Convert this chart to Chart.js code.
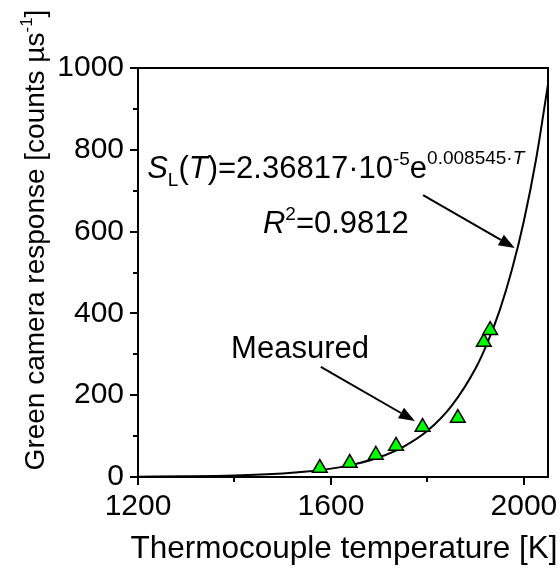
<!DOCTYPE html>
<html>
<head>
<meta charset="utf-8">
<script src="https://cdn.jsdelivr.net/npm/chart.js@4.4.1/dist/chart.umd.min.js"></script>
<style>
html, body { margin: 0; padding: 0; background: #fff; }
</style>
</head>
<body>
<canvas id="grafico" width="560" height="569"></canvas>
<script>
// measured points: thermocouple temperature [K] vs green camera response
var tempMedida = [1577, 1639, 1693, 1735, 1790, 1863, 1917, 1930];
var respMedida = [22, 34, 54, 76, 122, 144, 330, 359];

// fitted curve
var tempAjuste = [1200, 1300, 1400, 1500, 1550, 1600, 1650, 1700, 1750, 1800, 1850, 1900, 1925, 1950, 1975, 2000, 2025, 2050];
var respAjuste = [0.7, 1.6, 3.7, 8.7, 13.4, 20.5, 31.5, 48.2, 73.9, 113, 174, 266, 330, 408, 506, 626, 775, 960];

// annotation anchors, in data units
var notas = {
    medido: { x: 1393, y: 291 },
    setaMedido: [1579, 269, 1774, 137],
    equacao: { x: 1219, y: 731 },
    r2: { x: 1459, y: 597 },
    setaEq: [1791, 689, 1981, 560]
};

const fonte = '"Liberation Sans", Arial, sans-serif';

function pontos(xs, ys) {
    return xs.map(function (x, i) { return { x: x, y: ys[i] }; });
}

// draws text in pieces: [string, size, italic, dy]
function textoPartes(ctx, partes, x, y, medir) {
    var cx = x;
    partes.forEach(function (p) {
        ctx.font = (p[2] ? 'italic ' : '') + p[1] + 'px ' + fonte;
        if (!medir) ctx.fillText(p[0], cx, y + p[3]);
        cx += ctx.measureText(p[0]).width;
    });
    return cx - x;
}

function seta(ctx, x1, y1, x2, y2) {
    var ang = Math.atan2(y2 - y1, x2 - x1);
    var comp = 16, larg = 6;
    ctx.beginPath();
    ctx.moveTo(x1, y1);
    ctx.lineTo(x2 - Math.cos(ang) * comp, y2 - Math.sin(ang) * comp);
    ctx.stroke();
    ctx.beginPath();
    ctx.moveTo(x2, y2);
    ctx.lineTo(x2 - Math.cos(ang) * comp - Math.sin(ang) * larg, y2 - Math.sin(ang) * comp + Math.cos(ang) * larg);
    ctx.lineTo(x2 - Math.cos(ang) * comp + Math.sin(ang) * larg, y2 - Math.sin(ang) * comp - Math.cos(ang) * larg);
    ctx.closePath();
    ctx.fill();
}

const moldura = {
    id: 'moldura',
    afterDraw: function (chart) {
        var ctx = chart.ctx;
        var a = chart.chartArea;
        var sx = chart.scales.x, sy = chart.scales.y;
        ctx.save();
        ctx.strokeStyle = '#000';
        ctx.fillStyle = '#000';
        ctx.lineWidth = 2;
        ctx.strokeRect(a.left, a.top, a.right - a.left, a.bottom - a.top);

        // tick marks, outward
        sx.ticks.forEach(function (t) {
            var px = Math.round(sx.getPixelForValue(t.value));
            var len = t.value % 400 === 0 ? 8 : 5;
            ctx.beginPath();
            ctx.moveTo(px, a.bottom);
            ctx.lineTo(px, a.bottom + len);
            ctx.stroke();
        });
        sy.ticks.forEach(function (t) {
            var py = Math.round(sy.getPixelForValue(t.value));
            var len = t.value % 200 === 0 ? 8 : 5;
            ctx.beginPath();
            ctx.moveTo(a.left, py);
            ctx.lineTo(a.left - len, py);
            ctx.stroke();
        });

        // axis titles
        ctx.textBaseline = 'alphabetic';
        ctx.textAlign = 'left';
        var tx = [['Thermocouple temperature [K]', 31.5, false, 0]];
        var w = textoPartes(ctx, tx, 0, 0, true);
        textoPartes(ctx, tx, 344 - w / 2, 558);

        var ty = [['Green camera response [counts µs', 28, false, 0], ['-1', 17, false, -12], [']', 28, false, 0]];
        ctx.save();
        ctx.translate(44, 240);
        ctx.rotate(-Math.PI / 2);
        w = textoPartes(ctx, ty, 0, 0, true);
        textoPartes(ctx, ty, -w / 2, 0);
        ctx.restore();

        // annotations
        textoPartes(ctx, [['Measured', 31, false, 0]],
            sx.getPixelForValue(notas.medido.x), sy.getPixelForValue(notas.medido.y));
        textoPartes(ctx, [
            ['S', 31, true, 0], ['L', 19, false, 8], ['(', 31, false, 0], ['T', 31, true, 0],
            [')=2.36817·10', 31, false, 0], ['-5', 19, false, -13], ['e', 31, false, 0],
            ['0.008545·', 19, false, -14], ['T', 19, true, -14]
        ], sx.getPixelForValue(notas.equacao.x), sy.getPixelForValue(notas.equacao.y));
        textoPartes(ctx, [['R', 31, true, 0], ['2', 19, false, -13], ['=0.9812', 31, false, 0]],
            sx.getPixelForValue(notas.r2.x), sy.getPixelForValue(notas.r2.y));

        ctx.lineWidth = 2;
        [notas.setaMedido, notas.setaEq].forEach(function (s) {
            seta(ctx, sx.getPixelForValue(s[0]), sy.getPixelForValue(s[1]),
                sx.getPixelForValue(s[2]), sy.getPixelForValue(s[3]));
        });
        ctx.restore();
    }
};

var graficoResposta = new Chart(document.getElementById('grafico'), {
    type: 'scatter',
    data: {
        datasets: [{
            label: 'Measured',
            data: pontos(tempMedida, respMedida),
            order: 0,
            pointStyle: 'triangle',
            pointRadius: 8.5,
            pointBackgroundColor: '#00ff00',
            pointBorderColor: '#000',
            pointBorderWidth: 1.5
        }, {
            label: 'Fit',
            type: 'line',
            data: pontos(tempAjuste, respAjuste),
            order: 1,
            borderColor: '#000',
            borderWidth: 2,
            pointRadius: 0,
            cubicInterpolationMode: 'monotone',
            fill: false
        }]
    },
    options: {
        responsive: false,
        animation: false,
        events: [],
        layout: { padding: { top: 68, right: 12, left: 0, bottom: 0 } },
        plugins: { legend: { display: false }, tooltip: { enabled: false } },
        scales: {
            x: {
                type: 'linear',
                min: 1200,
                max: 2050,
                grid: { display: false },
                border: { display: false },
                afterFit: function (s) { s.height = 92; s.paddingLeft = 0; s.paddingRight = 0; },
                ticks: {
                    stepSize: 200,
                    includeBounds: false,
                    autoSkip: false,
                    maxRotation: 0,
                    padding: 4,
                    color: '#000',
                    font: { size: 30, family: fonte },
                    callback: function (v) { return v % 400 === 0 ? String(v) : ''; }
                }
            },
            y: {
                min: 0,
                max: 1000,
                grid: { display: false },
                border: { display: false },
                afterFit: function (s) { s.width = 138; s.paddingTop = 0; s.paddingBottom = 0; },
                ticks: {
                    stepSize: 100,
                    autoSkip: false,
                    padding: 6,
                    color: '#000',
                    font: { size: 30, family: fonte },
                    callback: function (v) { return v % 200 === 0 ? String(v) : ''; }
                }
            }
        }
    },
    plugins: [moldura]
});
</script>
</body>
</html>
